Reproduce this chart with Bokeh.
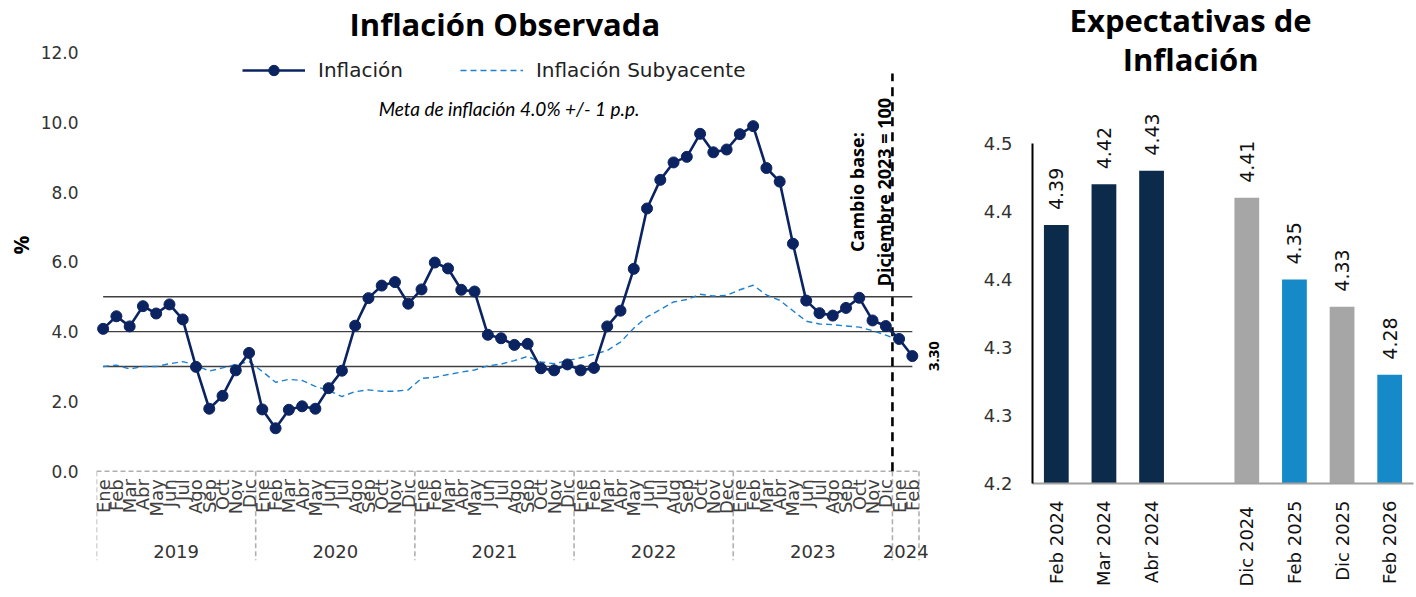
import math
from bokeh.plotting import figure
from bokeh.models import (FactorRange, Range1d, FixedTicker, ColumnDataSource, Legend,
                          LegendItem, Label, Title, PrintfTickFormatter, CategoricalAxis)
from bokeh.layouts import row
from bokeh.embed import file_html
from bokeh.resources import INLINE
from bokeh.core.properties import value

# ---------------- data: Inflación Observada ----------------
years = ["2019", "2020", "2021", "2022", "2023", "2024"]
months_std = ["Ene", "Feb", "Mar", "Abr", "May", "Jun", "Jul", "Ago", "Sep", "Oct", "Nov", "Dic"]
months_2022 = ["Ene", "Feb", "Mar", "Abr", "May", "Jun", "Jul", "Aug", "Sep", "Oct", "Nov", "Dec"]
months_2024 = ["Ene", "Feb"]
months_by_year = {"2019": months_std, "2020": months_std, "2021": months_std,
                  "2022": months_2022, "2023": months_std, "2024": months_2024}

inflacion = [4.08, 4.44, 4.15, 4.73, 4.52, 4.78, 4.35, 2.99, 1.79, 2.16, 2.89, 3.39,
             1.77, 1.23, 1.76, 1.86, 1.79, 2.38, 2.88, 4.17, 4.96, 5.32, 5.42, 4.80,
             5.21, 5.98, 5.81, 5.20, 5.15, 3.91, 3.81, 3.62, 3.65, 2.95, 2.89, 3.06,
             2.89, 2.96, 4.15, 4.60, 5.80, 7.53, 8.35, 8.85, 9.01, 9.67, 9.14, 9.22,
             9.66, 9.89, 8.69, 8.30, 6.52, 4.89, 4.53, 4.46, 4.68, 4.97, 4.32, 4.16,
             3.79, 3.30]
subyacente = [3.00, 3.04, 2.93, 3.00, 3.00, 3.08, 3.14, 3.04, 2.87, 2.96, 3.06, 3.14,
              2.86, 2.55, 2.63, 2.60, 2.43, 2.31, 2.14, 2.28, 2.33, 2.29, 2.29, 2.33,
              2.66, 2.69, 2.77, 2.84, 2.90, 3.02, 3.07, 3.17, 3.29, 3.13, 3.08, 3.17,
              3.25, 3.35, 3.46, 3.70, 4.10, 4.42, 4.63, 4.85, 4.92, 5.07, 5.02, 5.04,
              5.20, 5.33, 5.05, 4.90, 4.60, 4.30, 4.22, 4.20, 4.16, 4.13, 4.03, 3.90,
              3.76, float("nan")]
meta = 4.0
tolerancia = 1.0
y_ticks_left = [0, 2, 4, 6, 8, 10, 12]

# ---------------- data: Expectativas de Inflación ----------------
exp_labels = ["Feb 2024", "Mar 2024", "Abr 2024", "Dic  2024", "Feb 2025", "Dic 2025", "Feb 2026"]
exp_values = [4.39, 4.42, 4.43, 4.41, 4.35, 4.33, 4.28]
exp_ticks = [4.20, 4.25, 4.30, 4.35, 4.40, 4.45]
exp_tick_labels = ["4.2", "4.3", "4.3", "4.4", "4.4", "4.5"]

NAVY = "#0b2461"
CORE = "#1f80d0"
BAR_NAVY = "#0c2a4a"
BAR_GRAY = "#a6a6a6"
BAR_BLUE = "#1689c8"
exp_colors = [BAR_NAVY, BAR_NAVY, BAR_NAVY, BAR_GRAY, BAR_BLUE, BAR_GRAY, BAR_BLUE]

AXFONT = "DejaVu Sans"
TITLEFONT = "Open Sans"
UP = math.pi / 2

# ---------------- left figure ----------------
factors = [(y, m) for y in years for m in months_by_year[y]]
# two empty slots at the right end leave room for the last-value label and "2024"
pad_factors = [(" ", " "), (" ", "  ")]
x_range = FactorRange(*(factors + pad_factors), factor_padding=0, group_padding=0,
                      subgroup_padding=0, range_padding=0)
y_bottom = -2.56
p = figure(x_range=x_range, y_range=Range1d(y_bottom, 12.23), width=953, height=597,
           output_backend="svg", toolbar_location=None,
           min_border_left=96, min_border_right=8, min_border_top=44, min_border_bottom=37)
p.frame_align = False
p.title.text = "Inflación Observada"
p.title.align = "left"
p.title.offset = 253
p.title.text_font = TITLEFONT
p.title.text_font_size = "31px"
p.title.text_font_style = "bold"
p.title.text_color = "#000000"
p.title.standoff = 0
p.outline_line_color = None
p.xgrid.visible = False
p.ygrid.visible = False

# y axis
p.yaxis.ticker = FixedTicker(ticks=y_ticks_left)
p.yaxis.formatter = PrintfTickFormatter(format="%.1f")
p.yaxis.axis_line_color = None
p.yaxis.major_tick_line_color = None
p.yaxis.minor_tick_line_color = None
p.yaxis.major_tick_out = 0
p.yaxis.major_tick_in = 0
p.yaxis.major_label_standoff = 18
p.yaxis.major_label_text_font = AXFONT
p.yaxis.major_label_text_font_size = "17px"
p.yaxis.major_label_text_color = "#333333"
p.add_layout(Title(text="%", align="right", offset=191, standoff=6, text_font=TITLEFONT,
                   text_font_style="bold", text_font_size="21px", text_color="#000000"), "left")

# x axis: month labels at y = 0
xa = p.xaxis[0]
xa.fixed_location = 0
xa.axis_line_color = None
xa.major_tick_line_color = None
xa.minor_tick_line_color = None
xa.major_tick_out = 0
xa.major_tick_in = 0
xa.major_label_orientation = UP
xa.major_label_standoff = 8
xa.major_label_text_font = AXFONT
xa.major_label_text_font_size = "18px"
xa.major_label_text_color = "#404040"
xa.group_text_alpha = 0
xa.separator_line_color = None

# second categorical axis only for the year (group) labels
ya = CategoricalAxis(fixed_location=-1.76, axis_line_color=None, major_tick_line_color=None,
                     minor_tick_line_color=None, major_tick_out=0, major_tick_in=0,
                     major_label_orientation=UP, major_label_standoff=8,
                     major_label_text_font=AXFONT, major_label_text_font_size="18px",
                     major_label_text_alpha=0, group_text_font=AXFONT,
                     group_text_font_size="18px", group_text_font_style="normal",
                     group_text_color="#333333", separator_line_color=None)
p.add_layout(ya, "below")

src = ColumnDataSource(dict(x=factors, infl=inflacion, core=subyacente))

# target band lines
band = [meta - tolerancia, meta, meta + tolerancia]
p.segment(x0=[factors[0]] * 3, y0=band, x1=[factors[-1]] * 3, y1=band,
          line_color="#404040", line_width=1.4)

# category dashed frame
starts = [(y, months_by_year[y][0], -0.5) for y in years]
ends = [(years[-1], months_by_year[years[-1]][-1], 0.5)]
sep_x = starts + ends
sep_src = ColumnDataSource(dict(x0=sep_x, x1=sep_x, y0=[0] * len(sep_x), y1=[y_bottom] * len(sep_x)))
p.segment(x0="x0", y0="y0", x1="x1", y1="y1", source=sep_src,
          line_color="#b0b0b0", line_width=1.6, line_dash="5 3")
top_src = ColumnDataSource(dict(x0=[starts[0]], x1=ends, y0=[0], y1=[0]))
p.segment(x0="x0", y0="y0", x1="x1", y1="y1", source=top_src,
          line_color="#b0b0b0", line_width=1.6, line_dash="5 3")

# base change line between Dic 2023 and Ene 2024
base_src = ColumnDataSource(dict(x0=[("2023", "Dic", 0.5)], x1=[("2023", "Dic", 0.5)],
                                 y0=[0], y1=[11.4]))
p.segment(x0="x0", y0="y0", x1="x1", y1="y1", source=base_src,
          line_color="#000000", line_width=2.6, line_dash="9 6")

r_core = p.line(x="x", y="core", source=src, line_color=CORE, line_width=1.4, line_dash="6 4")
r_line = p.line(x="x", y="infl", source=src, line_color=NAVY, line_width=2.6)
r_pts = p.scatter(x="x", y="infl", source=src, size=11, fill_color=NAVY, line_color=NAVY)

legend = Legend(items=[LegendItem(label="Inflación", renderers=[r_line, r_pts]),
                       LegendItem(label="Inflación Subyacente", renderers=[r_core])],
                orientation="horizontal", location=(146, 477),
                glyph_width=63, glyph_height=26, label_standoff=13, spacing=57,
                padding=0, margin=0, border_line_color=None, background_fill_alpha=0,
                label_text_font=AXFONT, label_text_font_size="20px",
                label_text_color="#222222")
p.add_layout(legend)

p.add_layout(Label(x=31.1, y=10.4, text=f"Meta de inflación {meta:.1f}% +/- {tolerancia:g} p.p.",
                   text_align="center", text_baseline="middle", text_font="Lato",
                   text_font_style="italic", text_font_size="19px", text_color="#000000"))

dic23 = factors.index(("2023", "Dic")) + 0.5
p.add_layout(Label(x=dic23 - 2.2, y=8.0, text="Cambio base:", angle=UP,
                   text_align="center", text_baseline="middle", text_font=TITLEFONT,
                   text_font_style="bold", text_font_size="18px", text_color="#000000"))
p.add_layout(Label(x=dic23 - 0.1, y=8.0, text="Diciembre 2023 = 100", angle=UP,
                   text_align="center", text_baseline="middle", text_font=TITLEFONT,
                   text_font_style="bold", text_font_size="18px", text_color="#000000"))

# last observed value
last_pos = len(factors) - 0.5
p.add_layout(Label(x=last_pos + 1.6, y=inflacion[-1], text=f"{inflacion[-1]:.2f}", angle=UP,
                   text_align="center", text_baseline="middle", text_font=TITLEFONT,
                   text_font_style="bold", text_font_size="15px", text_color="#000000"))

# ---------------- right figure ----------------
exp_factors = exp_labels[:3] + [" "] + exp_labels[3:]
q = figure(x_range=FactorRange(*exp_factors, factor_padding=0, range_padding=0),
           y_range=Range1d(4.2, 4.5551), width=463, height=597, title=None,
           output_backend="svg", toolbar_location=None,
           min_border_left=79, min_border_right=3, min_border_top=0, min_border_bottom=114)
q.frame_align = False
q.outline_line_color = None
q.xgrid.visible = False
q.ygrid.visible = False

# title (two centred lines)
q.add_layout(Label(x=3.32, y=4.5404, text="Expectativas de", text_align="center",
                   text_baseline="middle", text_font=TITLEFONT, text_font_size="31px",
                   text_font_style="bold", text_color="#000000"))
q.add_layout(Label(x=3.32, y=4.5118, text="Inflación", text_align="center",
                   text_baseline="middle", text_font=TITLEFONT, text_font_size="31px",
                   text_font_style="bold", text_color="#000000"))

bsrc = ColumnDataSource(dict(x=exp_labels, top=exp_values, color=exp_colors,
                             txt=[f"{v:.2f}" for v in exp_values]))
q.vbar(x="x", top="top", bottom=4.2, width=0.52, source=bsrc, fill_color="color", line_color=None)
q.text(x="x", y="top", text="txt", source=bsrc, angle=UP, text_align="left",
       text_baseline="middle", y_offset=-15, text_font=value(AXFONT), text_font_size="19px",
       text_color="#111111")

q.yaxis.ticker = FixedTicker(ticks=exp_ticks)
q.yaxis.major_label_overrides = dict(zip(exp_ticks, exp_tick_labels))
q.yaxis.bounds = (exp_ticks[0], exp_ticks[-1])
q.yaxis.axis_line_color = "#000000"
q.yaxis.axis_line_width = 2
q.yaxis.major_tick_line_color = None
q.yaxis.minor_tick_line_color = None
q.yaxis.major_tick_out = 0
q.yaxis.major_tick_in = 0
q.yaxis.major_label_standoff = 20
q.yaxis.major_label_text_font = AXFONT
q.yaxis.major_label_text_font_size = "18px"
q.yaxis.major_label_text_color = "#333333"

q.xaxis.axis_line_color = "#a0a0a0"
q.xaxis.axis_line_width = 2
q.xaxis.major_tick_line_color = None
q.xaxis.minor_tick_line_color = None
q.xaxis.major_tick_out = 0
q.xaxis.major_tick_in = 0
q.xaxis.major_label_orientation = UP
q.xaxis.major_label_standoff = 17
q.xaxis.major_label_text_font = AXFONT
q.xaxis.major_label_text_font_size = "18px"
q.xaxis.major_label_text_color = "#111111"

layout = row(p, q)
open("out.html", "w").write(file_html(layout, INLINE))
